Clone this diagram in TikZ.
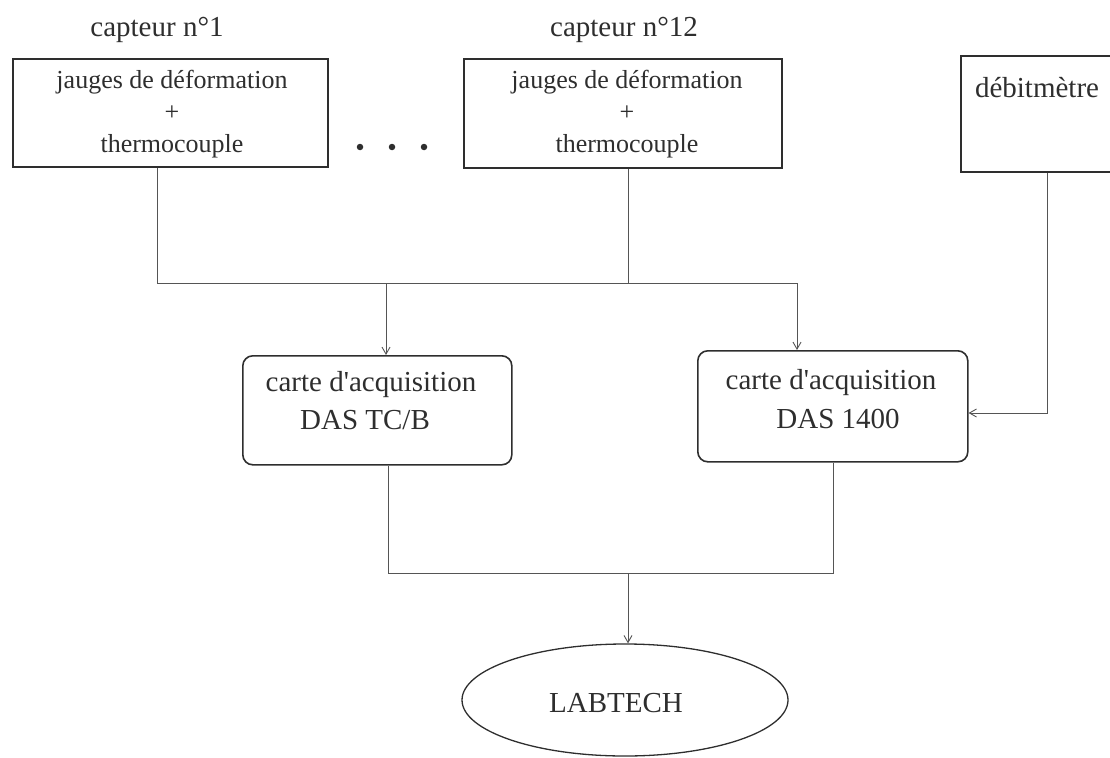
\documentclass[tikz,border=0pt]{standalone}
\usepackage{fontspec}
\setmainfont{Liberation Serif}
\usetikzlibrary{shapes.geometric,arrows.meta}
\definecolor{ink}{HTML}{2E2E2E}
\definecolor{wire}{HTML}{555555}
\tikzset{
  sqbox/.style={draw=ink,line width=1.6pt,rectangle,inner sep=0pt,anchor=north west},
  rdbox/.style={draw=ink,line width=1.6pt,rectangle,rounded corners=10pt,inner sep=0pt,anchor=north west},
  txt/.style={text=ink,inner sep=0pt,font=\fontsize{29}{35}\selectfont},
  smalltxt/.style={text=ink,inner sep=0pt,align=center,font=\fontsize{26}{32}\selectfont},
  wireline/.style={draw=wire,line width=0.9pt},
  arr/.style={wireline,-{Straight Barb[length=7pt,width=8pt,line width=0.9pt]}},
  dot/.style={circle,fill=ink,inner sep=0pt,minimum size=6.5pt}
}
\begin{document}
\begin{tikzpicture}[x=1pt,y=-1pt]
\useasboundingbox (0,0) rectangle (1110,757);
\clip (0,0) rectangle (1110,757);
% captions
\node[txt] (cap1) at (157,30) {capteur n°1};
\node[txt] (cap12) at (624,30) {capteur n°12};
% sensor boxes
\node[sqbox,minimum width=315pt,minimum height=108pt] (b1) at (12,58) {};
\node[sqbox,minimum width=318pt,minimum height=109pt] (b2) at (463,58) {};
\node[sqbox,minimum width=170pt,minimum height=116pt] (deb) at (960,55) {};
\node[smalltxt] (t1) at (172,114) {jauges de déformation\\+\\thermocouple};
\node[smalltxt] (t2) at (627,114) {jauges de déformation\\+\\thermocouple};
\node[txt] (tdeb) at (1037,88) {débitmètre};
% dots
\node[dot] (d1) at (360,147) {};
\node[dot] (d2) at (392,147) {};
\node[dot] (d3) at (424,147) {};
% acquisition cards
\node[rdbox,minimum width=269pt,minimum height=109pt] (b4) at (242,355) {};
\node[rdbox,minimum width=270pt,minimum height=111pt] (b5) at (697,350) {};
\node[txt] (t4a) at (371,385) {carte d\textquotesingle acquisition};
\node[txt] (t4b) at (365,420) {DAS TC/B};
\node[txt] (t5a) at (831,383) {carte d\textquotesingle acquisition};
\node[txt] (t5b) at (838,419) {DAS 1400};
% LABTECH
\node[ellipse,draw=ink,line width=1.3pt,minimum width=326pt,minimum height=112pt,inner sep=0pt] (lab) at (625,700) {};
\node[txt] (tlab) at (616,703) {LABTECH};
% junctions
\coordinate (jl) at (157,283);
\coordinate (jm) at (628,283);
\coordinate (ja) at (386,283);
\coordinate (jr) at (797,283);
\coordinate (jd) at (1047,413);
\coordinate (kl) at (388,573);
\coordinate (km) at (628,573);
\coordinate (kr) at (833,573);
% connectors
\draw[wireline] (b1.south -| jl) -- (jl) -- (jr);
\draw[wireline] (b2.south -| jm) -- (jm);
\draw[arr] (ja) -- (b4.north -| ja);
\draw[arr] (jr) -- (b5.north -| jr);
\draw[arr] (deb.south -| jd) -- (jd) -- (b5.east |- jd);
\draw[wireline] (b4.south -| kl) -- (kl) -- (kr) -- (b5.south -| kr);
\draw[arr] (km) -- (lab.north -| km);
\end{tikzpicture}
\end{document}
